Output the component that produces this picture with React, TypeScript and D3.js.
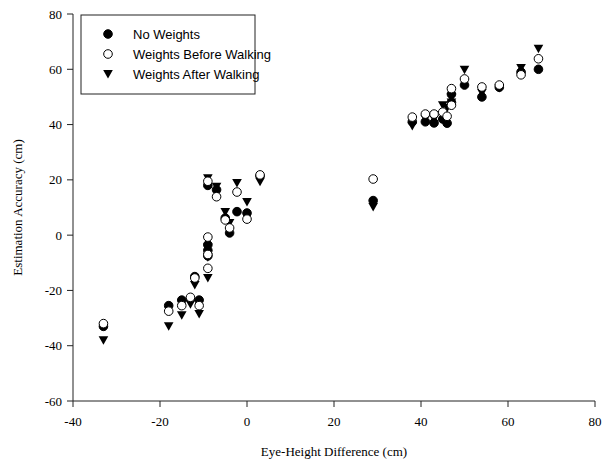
import { useMemo } from 'react'
import * as d3 from 'd3'

const W = 609
const H = 465
const M = { left: 73, right: 14, top: 14, bottom: 64 }

// eye-height difference per participant (cm)
const eyeDiff = [-33, -18, -15, -13, -11, -12, -9, -9, -9, -9, -7, -5, -4, -2.3, 0, 3, 29, 38, 41, 43, 45, 46, 47, 47, 50, 54, 58, 63, 67]
const noWeights = [-33, -25.5, -23.5, -23, -23.5, -15, 18, -3.5, -5.5, -7.5, 16.4, 6.2, 0.8, 8.5, 8, 21.4, 12.5, 41, 41, 40.6, 42, 40.5, 48, 51, 54.3, 50, 53.5, 59, 60]
const weightsBefore = [-32, -27.5, -25.5, -22.5, -25.5, -15.5, 19.5, -0.7, -12, -7, 13.9, 5.5, 2.6, 15.6, 5.8, 21.8, 20.3, 42.7, 43.8, 43.8, 44.5, 43, 47, 53, 56.5, 53.6, 54.3, 58, 63.8]
const weightsAfter = [-38, -33, -29, -25, -28.5, -18, 20.6, -4.5, -15.5, -8, 17.5, 8.4, 4.4, 18.9, 12, 19.3, 10.2, 39.5, 42, 42, 47, 46, 48, 50, 59.8, 51.4, 53.2, 60.5, 67.4]

const xTicks = [-40, -20, 0, 20, 40, 60, 80]
const yTicks = [-60, -40, -20, 0, 20, 40, 60, 80]
const legendLabels = ['No Weights', 'Weights Before Walking', 'Weights After Walking']

const serif = '"Liberation Serif", "Times New Roman", serif'
const sans = '"Liberation Sans", Arial, sans-serif'

const R = 4.3

const Tri = ({ x, y }: { x: number; y: number }) => (
  <path d={`M${x - 4.8},${y - 4} L${x + 4.8},${y - 4} L${x},${y + 4.5} Z`} fill="#000" />
)
const Dot = ({ x, y, open }: { x: number; y: number; open?: boolean }) => (
  <circle cx={x} cy={y} r={R} fill={open ? '#fff' : '#000'} stroke="#000" strokeWidth={1} />
)

export default function App() {
  const x = useMemo(() => d3.scaleLinear().domain([-40, 80]).range([M.left, W - M.right]), [])
  const y = useMemo(() => d3.scaleLinear().domain([-60, 80]).range([H - M.bottom, M.top]), [])
  const x0 = x(-40)
  const y0 = y(-60)

  return (
    <svg width={W} height={H} style={{ position: 'absolute', left: 0, top: 0, background: '#fff' }}>
      {/* axes */}
      <line x1={x0} x2={x0} y1={y(80)} y2={y0} stroke="#222" />
      <line x1={x0} x2={x(80)} y1={y0} y2={y0} stroke="#222" />
      {yTicks.map((t) => (
        <g key={'y' + t}>
          <line x1={x0 - 6} x2={x0} y1={y(t)} y2={y(t)} stroke="#222" />
          <text x={x0 - 11} y={y(t)} dy="0.35em" textAnchor="end" fontFamily={serif} fontSize={13}>
            {t}
          </text>
        </g>
      ))}
      {xTicks.map((t) => (
        <g key={'x' + t}>
          <line x1={x(t)} x2={x(t)} y1={y0} y2={y0 + 6} stroke="#222" />
          <text x={x(t)} y={y0 + 25} textAnchor="middle" fontFamily={serif} fontSize={13}>
            {t}
          </text>
        </g>
      ))}
      <text x={(x0 + x(80)) / 2} y={H - 9} textAnchor="middle" fontFamily={serif} fontSize={13}>
        Eye-Height Difference (cm)
      </text>
      <text transform={`translate(22, ${(y(80) + y0) / 2}) rotate(-90)`} textAnchor="middle" fontFamily={serif} fontSize={13}>
        Estimation Accuracy (cm)
      </text>

      {/* points */}
      {eyeDiff.map((d, i) => <Tri key={'a' + i} x={x(d)} y={y(weightsAfter[i])} />)}
      {eyeDiff.map((d, i) => <Dot key={'n' + i} x={x(d)} y={y(noWeights[i])} />)}
      {eyeDiff.map((d, i) => <Dot key={'b' + i} x={x(d)} y={y(weightsBefore[i])} open />)}

      {/* legend */}
      <rect x={81} y={15} width={174} height={79} fill="#fff" stroke="#222" />
      {legendLabels.map((l, i) => {
        const ly = 34 + i * 20
        return (
          <g key={l}>
            {i === 0 && <Dot x={108} y={ly} />}
            {i === 1 && <Dot x={108} y={ly} open />}
            {i === 2 && <Tri x={108} y={ly} />}
            <text x={133} y={ly} dy="0.35em" fontFamily={sans} fontSize={13}>
              {l}
            </text>
          </g>
        )
      })}
    </svg>
  )
}
